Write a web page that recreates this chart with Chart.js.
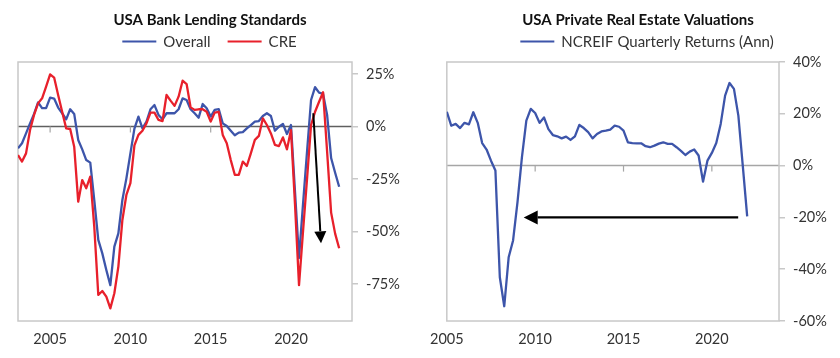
<!DOCTYPE html>
<html><head><meta charset="utf-8">
<script src="https://cdn.jsdelivr.net/npm/chart.js@4.4.0/dist/chart.umd.min.js"></script>
<style>
html,body{margin:0;padding:0;background:#fff;overflow:hidden;}
#wrap{position:relative;width:840px;height:358px;}
canvas{position:absolute;top:0;}
</style></head><body>
<div id="wrap">
<canvas id="left" width="420" height="358" style="left:0"></canvas>
<canvas id="right" width="420" height="358" style="left:420px"></canvas>
</div>
<script>
// ---------- data ----------
const lendingStart = 2003; // 2003 Q1, quarterly
const overallStandards = [
 -10.4,-8,-3.3,1.5,6,11.5,8.7,8.7,13.7,13.3,
 9,6.3,3.4,8.2,6,-6.4,-10.9,-16,-17.2,-35,
 -54,-60.4,-68.3,-75.5,-57.2,-50.9,-35,-24.7,-12.8,-1,
 4.7,-0.9,2.3,8.2,10.2,5.5,3.4,6.3,6.3,6.3,
 8.2,13.4,12.6,8.2,6.3,4.2,10.7,8.7,4.7,7.9,
 8.3,1.5,0.2,-2,-4.2,-2.9,-2.7,-0.9,0.7,2.3,
 2.6,5,6.3,5,-2,-0.1,1.2,-3.6,0.7,-31,
 -62.6,-37,-12,12.6,18.7,16.1,15.5,5.5,-15,-22,
 -28.7
];
const creStandards = [
 -13.6,-16.7,-12.8,-1.7,5.5,11,13.4,19,24.8,23.3,
 15,7,-0.9,-1.2,-9.6,-35.8,-25.5,-29.4,-23.9,-47.7,
 -80.2,-78.3,-81,-86.6,-79.4,-66.7,-44.5,-32.6,-27,-9,
 -4,-2,1.5,6.6,6.6,3.1,2.6,15,12.3,9.8,
 14.2,21.8,20.2,9.1,7.9,8.2,8.2,7,2.3,6.6,
 7,-4,-8,-16,-23,-23,-16.7,-18.8,-12.8,-6.4,
 -4.5,3.9,0.7,-3.3,-8.8,-9.3,-5.2,-10.9,-1.7,-37,
 -75.5,-50,-25,0.7,7,11.8,16.3,-12,-41,-51,
 -58
];
const ncreifStart = 2005; // 2005 Q1, quarterly
const ncreifReturns = [
 20.8,15.4,16.1,14.5,16.5,15.9,20.6,16.5,8.7,6.2,
 1.9,-1.9,-43.1,-54.3,-35.4,-28.9,-14.1,3.2,17.4,21.9,
 20.3,16.5,18.6,14.1,11.8,11.3,10.5,11.2,9.9,11.3,
 15.7,14.5,12.9,10.5,12.2,13.2,13.5,13.9,15.4,15.0,
 13.5,9,8.7,8.6,8.6,7.5,7.1,7.7,8.5,9,
 8.4,8.4,7.1,5.7,4.1,5.4,6.2,3.9,-6.2,1.9,
 4.9,8.7,16.1,27,31.9,29.6,19.3,0,-19.6
];
const yearTicks = [2005, 2010, 2015, 2020];
const lendingTicks = [-75, -50, -25, 0, 25];
const ncreifTicks = [-60, -40, -20, 0, 20, 40];
const lendingArrow = [[2021.39, 6.3], [2021.87, -55.6]];
const ncreifArrow = [[2021.49, -20], [2009.35, -20]];

// ---------- helpers ----------
const FONT = 'Lato';
const TEXT = '#333333';
function quarterly(start, arr){ return arr.map((v,i)=>({x:start+i/4, y:v})); }

const decor = {
  id:'decor',
  beforeDatasetsDraw(chart, args, o){
    const {ctx, chartArea:a} = chart; const x = chart.scales.x, y = chart.scales.y;
    ctx.save();
    const y0 = y.getPixelForValue(0);
    ctx.strokeStyle = o.zeroColor; ctx.lineWidth = 1.5;
    ctx.beginPath(); ctx.moveTo(a.left, y0); ctx.lineTo(a.right, y0); ctx.stroke();
    ctx.strokeStyle = o.tickColor; ctx.lineWidth = 1.2;
    yearTicks.forEach(t=>{
      const px = x.getPixelForValue(t);
      if (px <= a.left + 2 || px >= a.right - 2) return;
      ctx.beginPath(); ctx.moveTo(px, y0); ctx.lineTo(px, y0 + 6); ctx.stroke();
    });
    ctx.strokeStyle = o.frameColor; ctx.lineWidth = 1.5;
    ctx.strokeRect(a.left, a.top, a.right - a.left, a.bottom - a.top);
    ctx.restore();
  },
  afterDatasetsDraw(chart, args, o){
    if (!o.arrow) return;
    const {ctx} = chart; const x = chart.scales.x, y = chart.scales.y;
    const x1 = x.getPixelForValue(o.arrow[0][0]), y1 = y.getPixelForValue(o.arrow[0][1]);
    const x2 = x.getPixelForValue(o.arrow[1][0]), y2 = y.getPixelForValue(o.arrow[1][1]);
    const ang = Math.atan2(y2 - y1, x2 - x1);
    const L = o.headLen, W = o.headHalf;
    const bx = x2 - L * Math.cos(ang), by = y2 - L * Math.sin(ang);
    ctx.save();
    ctx.strokeStyle = '#000'; ctx.fillStyle = '#000'; ctx.lineWidth = o.lineWidth;
    ctx.beginPath(); ctx.moveTo(x1, y1); ctx.lineTo(bx, by); ctx.stroke();
    ctx.beginPath();
    ctx.moveTo(x2, y2);
    ctx.lineTo(bx + W * Math.sin(ang), by - W * Math.cos(ang));
    ctx.lineTo(bx - W * Math.sin(ang), by + W * Math.cos(ang));
    ctx.closePath(); ctx.fill();
    ctx.restore();
  },
  afterDraw(chart, args, o){
    const {ctx} = chart;
    ctx.save();
    ctx.fillStyle = '#111'; ctx.font = 'bold 15px ' + FONT;
    ctx.textAlign = 'center'; ctx.textBaseline = 'alphabetic';
    ctx.fillText(o.title, o.titleX, 25);
    ctx.font = '15px ' + FONT;
    const items = chart.data.datasets.map(d=>({label:d.label, color:d.borderColor, w:ctx.measureText(d.label).width}));
    const lineLen = 34, gap = 7, sep = 17;
    const total = items.reduce((s,it)=>s + lineLen + gap + it.w, 0) + sep * (items.length - 1);
    let cx = o.legendX - total / 2;
    ctx.textAlign = 'left';
    items.forEach(it=>{
      ctx.strokeStyle = it.color; ctx.lineWidth = 2;
      ctx.beginPath(); ctx.moveTo(cx, 41.5); ctx.lineTo(cx + lineLen, 41.5); ctx.stroke();
      ctx.fillStyle = TEXT;
      ctx.fillText(it.label, cx + lineLen + gap, 46.5);
      cx += lineLen + gap + it.w + sep;
    });
    ctx.restore();
  }
};

function makeOptions(cfg){
  return {
    responsive:false, animation:false, devicePixelRatio:1,
    layout:{padding:{left:cfg.padLeft, top:62, right:0, bottom:0}},
    plugins:{legend:{display:false}, tooltip:{enabled:false},
      decor:{title:cfg.title, titleX:cfg.titleX, legendX:cfg.legendX, zeroColor:cfg.zeroColor,
        tickColor:'#a6a6a6', frameColor:'#c8c8c8', arrow:cfg.arrow, headLen:cfg.headLen, headHalf:cfg.headHalf, lineWidth:cfg.arrowWidth}},
    scales:{
      x:{type:'linear', min:cfg.xMin, max:2023.8,
        grid:{display:false, drawTicks:false}, border:{display:false},
        afterBuildTicks:s=>{ s.ticks = yearTicks.map(v=>({value:v})); },
        afterFit:s=>{ s.height = 37; },
        ticks:{color:TEXT, font:{family:FONT, size:14.5}, padding:10, maxRotation:0, autoSkip:false,
          callback:v=>String(v)}},
      y:{type:'linear', position:'right', min:cfg.yMin, max:cfg.yMax,
        grid:{drawOnChartArea:false, drawTicks:true, tickLength:6, color:'#c8c8c8', lineWidth:1.5},
        border:{display:false},
        afterBuildTicks:s=>{ s.ticks = cfg.yTicks.map(v=>({value:v})); },
        afterFit:s=>{ s.width = cfg.yWidth; },
        ticks:{color:TEXT, font:{family:FONT, size:14.5}, padding:8, callback:v=>v + '%'}}
    }
  };
}

new Chart(document.getElementById('left'), {
  type:'line',
  data:{datasets:[
    {label:'Overall', data:quarterly(lendingStart, overallStandards), borderColor:'#3d55aa', borderWidth:2.3, pointRadius:0, tension:0, borderJoinStyle:'round', order:1},
    {label:'CRE', data:quarterly(lendingStart, creStandards), borderColor:'#e8202b', borderWidth:2.3, pointRadius:0, tension:0, borderJoinStyle:'round', order:0}
  ]},
  options:makeOptions({padLeft:18, title:'USA Bank Lending Standards', titleX:210, legendX:209.5, zeroColor:'#5f5f5f',
    arrow:lendingArrow, headLen:12, headHalf:6, arrowWidth:2, xMin:2003, yMin:-92.6, yMax:30.7, yTicks:lendingTicks, yWidth:68}),
  plugins:[decor]
});

new Chart(document.getElementById('right'), {
  type:'line',
  data:{datasets:[
    {label:'NCREIF Quarterly Returns (Ann)', data:quarterly(ncreifStart, ncreifReturns), borderColor:'#3d55aa', borderWidth:2.3, pointRadius:0, tension:0, borderJoinStyle:'round'}
  ]},
  options:makeOptions({padLeft:25, title:'USA Private Real Estate Valuations', titleX:218, legendX:227, zeroColor:'#a6a6a6',
    arrow:ncreifArrow, headLen:14, headHalf:7, arrowWidth:2.4, xMin:2005, yMin:-60, yMax:40, yTicks:ncreifTicks, yWidth:61}),
  plugins:[decor]
});
</script>
</body></html>
